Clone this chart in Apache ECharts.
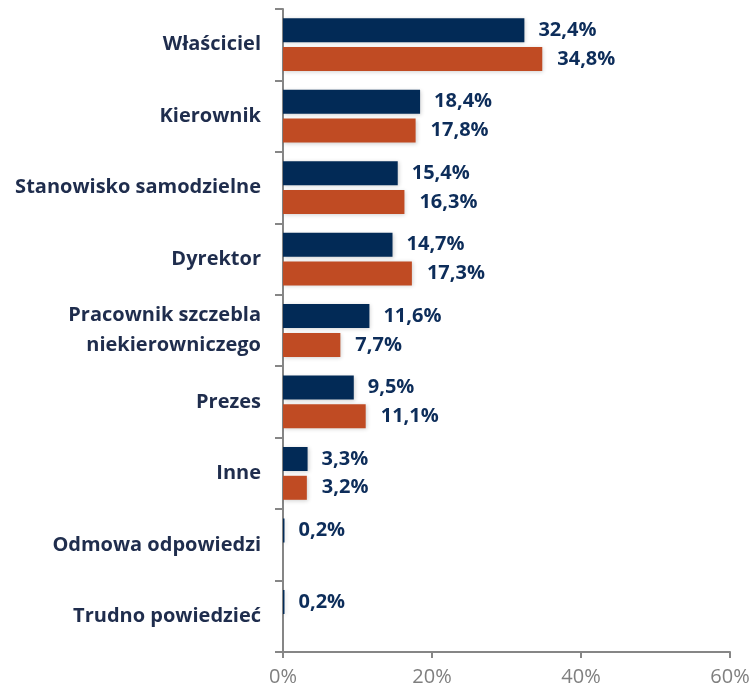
<!DOCTYPE html>
<html>
<head>
<meta charset="utf-8">
<script src="https://cdn.jsdelivr.net/npm/echarts@6/dist/echarts.min.js"></script>
<style>
  html, body { margin: 0; padding: 0; background: #fff; }
  #chart { width: 754px; height: 692px; }
</style>
</head>
<body>
<div id="chart"></div>
<script>
var categories = ['Właściciel', 'Kierownik', 'Stanowisko samodzielne', 'Dyrektor',
    'Pracownik szczebla\nniekierowniczego', 'Prezes', 'Inne', 'Odmowa odpowiedzi', 'Trudno powiedzieć'];
var seriesA = [32.4, 18.4, 15.4, 14.7, 11.6, 9.5, 3.3, 0.2, 0.2];
var seriesB = [34.8, 17.8, 16.3, 17.3, 7.7, 11.1, 3.2, null, null];
var xTicks = [0, 20, 40, 60];

var fontFam = '"Open Sans", sans-serif';

function pctLabel(p) {
    return p.value.toFixed(1).replace('.', ',') + '%';
}

var chart = echarts.init(document.getElementById('chart'));

var option = {
    animation: false,
    grid: { left: 283, right: 24, top: 9, bottom: 40 },
    xAxis: {
        type: 'value',
        min: xTicks[0],
        max: xTicks[xTicks.length - 1],
        interval: 20,
        axisLine: { show: true, lineStyle: { color: '#868686', width: 2 } },
        axisTick: { show: true, length: 6, lineStyle: { color: '#868686', width: 2 } },
        splitLine: { show: false },
        axisLabel: {
            color: '#7f7f7f', fontSize: 20, fontFamily: fontFam, margin: 15,
            formatter: function (v) { return v + '%'; }
        }
    },
    yAxis: {
        type: 'category',
        inverse: true,
        data: categories,
        axisLine: { show: true, lineStyle: { color: '#868686', width: 2 } },
        axisTick: { show: true, length: 8, lineStyle: { color: '#868686', width: 2 } },
        axisLabel: {
            color: '#1f2d4d', fontSize: 20, fontWeight: 'bold', fontFamily: fontFam,
            margin: 22, lineHeight: 30, align: 'right'
        }
    },
    series: [
        {
            name: 'A',
            type: 'bar',
            data: seriesA,
            barWidth: 24,
            barGap: '20%',
            itemStyle: { color: '#022a56', shadowColor: 'rgba(0,0,0,0.18)', shadowBlur: 4, shadowOffsetX: 1, shadowOffsetY: 1 },
            label: {
                show: true, position: 'right', distance: 14,
                color: '#0d2d5a', fontSize: 20, fontWeight: 'bold', fontFamily: fontFam,
                formatter: pctLabel
            }
        },
        {
            name: 'B',
            type: 'bar',
            data: seriesB,
            barWidth: 24,
            itemStyle: { color: '#c04b23', shadowColor: 'rgba(0,0,0,0.18)', shadowBlur: 4, shadowOffsetX: 1, shadowOffsetY: 1 },
            label: {
                show: true, position: 'right', distance: 15,
                color: '#0d2d5a', fontSize: 20, fontWeight: 'bold', fontFamily: fontFam,
                formatter: pctLabel
            }
        }
    ]
};

chart.setOption(option);
</script>
</body>
</html>
